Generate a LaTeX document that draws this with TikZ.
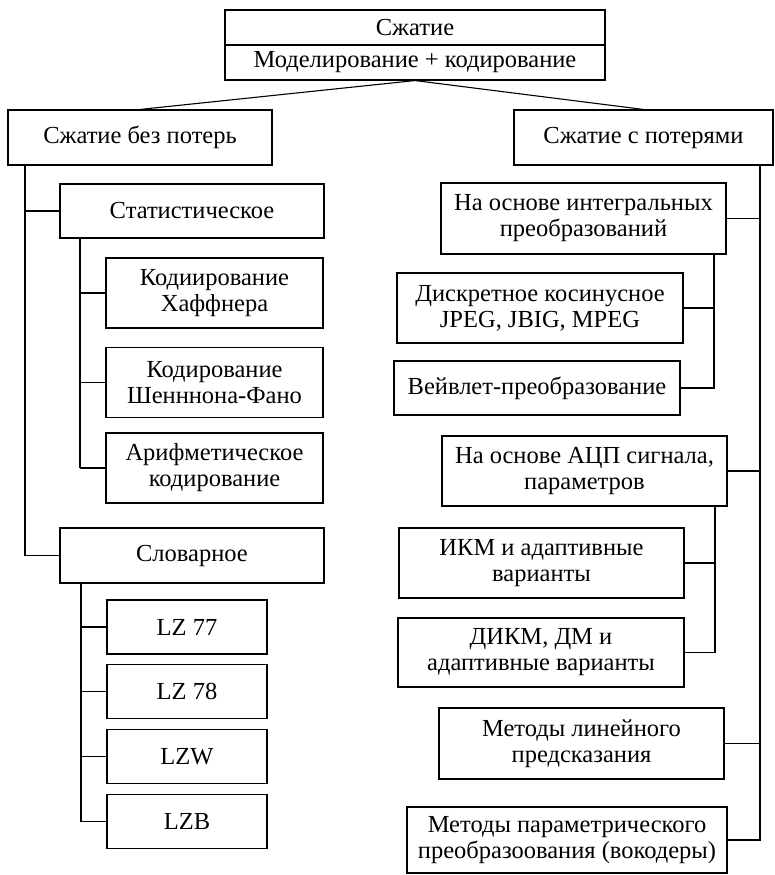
\documentclass[tikz,border=0pt]{standalone}
\usepackage{fontspec}
\setmainfont{Liberation Serif}
\usetikzlibrary{positioning}

\tikzset{
    box/.style={draw, line width=1.1pt, align=center, inner sep=0pt, font=\fontsize{24.5}{26}\selectfont},
    link/.style={line width=1.1pt},
    spine/.style={line width=2pt}
}

\begin{document}
\begin{tikzpicture}[x=1pt,y=-1pt]
            \useasboundingbox (0,0) rectangle (774,875);
            \node[box, minimum width=380, minimum height=35] (root) at (415,27.5) {Сжатие};
            \node[box, minimum width=380, minimum height=35] (model) at (415,62.5) {Моделирование + кодирование};
            \node[box, minimum width=264, minimum height=55] (lossless) at (140,137.5) {Сжатие без потерь};
            \node[box, minimum width=259, minimum height=55] (lossy) at (643.5,137.5) {Сжатие с потерями};
            \draw[link] (model.south) -- (lossless.north);
            \draw[link] (model.south) -- (lossy.north);
            % lossless branch
            \coordinate (lt) at (25,165);
            \node[box, minimum width=264, minimum height=54] (stat) at (192,211) {Статистическое};
            \node[box, minimum width=264, minimum height=55] (slov) at (192,555.5) {Словарное};
            \draw[link] (lt) |- (slov.west);
            \draw[link] (stat.west) -- (stat.west -| lt);
            \coordinate (st) at (80,238);
            \foreach \n/\y/\t in {huff/293/{Кодиирование\\Хаффнера},shan/382.5/{Кодирование\\Шенннона-Фано},arith/468/{Арифметическое\\кодирование}} {
                \node[box, minimum width=217, minimum height=70] (\n) at (214.5,\y) {\t};
                \draw[link] (\n.west) -- (\n.west -| st);
            }
            \draw[link] (st) -- (st |- arith.west);
            \coordinate (sd) at (81,583);
            \foreach \n/\y/\t in {lza/627/LZ 77,lzb/691.5/LZ 78,lzw/756.5/LZW,lzbb/821.5/LZB} {
                \node[box, minimum width=160, minimum height=54] (\n) at (187,\y) {\t};
                \draw[link] (\n.west) -- (\n.west -| sd);
            }
            \draw[link] (sd) -- (sd |- lzbb.west);
            % lossy branch
            \coordinate (rt) at (760,165);
            \node[box, minimum width=285, minimum height=71] (integ) at (583.5,218.5) {На основе интегральных\\преобразований};
            \node[box, minimum width=286, minimum height=70] (dct) at (540,308) {Дискретное косинусное\\JPEG, JBIG, MPEG};
            \node[box, minimum width=286, minimum height=54] (wave) at (537,388) {Вейвлет-преобразование};
            \coordinate (it) at (714,254);
            \draw[link] (it) |- (wave.east);
            \draw[link] (dct.east) -- (dct.east -| it);
            \node[box, minimum width=285, minimum height=70] (adc) at (584.5,471) {На основе АЦП сигнала,\\параметров};
            \node[box, minimum width=285, minimum height=70] (pcm) at (541.5,563) {ИКМ и адаптивные\\варианты};
            \node[box, minimum width=286, minimum height=69] (dpcm) at (541,652.5) {ДИКМ, ДМ и\\адаптивные варианты};
            \coordinate (at) at (715,506);
            \draw[link] (at) |- (dpcm.east);
            \draw[link] (pcm.east) -- (pcm.east -| at);
            \node[box, minimum width=285, minimum height=71] (lpc) at (581.5,743.5) {Методы линейного\\предсказания};
            \node[box, minimum width=320, minimum height=66] (voc) at (567,840) {Методы параметрического\\преобразоования (вокодеры)};
            \draw[spine] (rt) |- (voc.east);
            \foreach \n in {integ,adc,lpc} {
                \draw[link] (\n.east) -- (\n.east -| rt);
            }
        \end{tikzpicture}
\end{document}
